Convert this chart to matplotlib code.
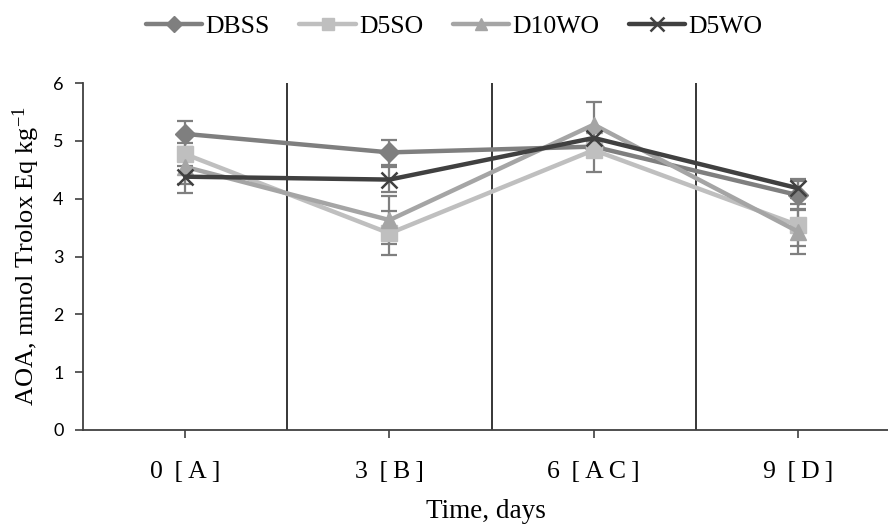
import matplotlib
matplotlib.use("Agg")
import matplotlib.pyplot as plt

categories = ["0\u2009 [\u2009A\u2009]", "3\u2009 [\u2009B\u2009]", "6\u2009 [\u2009A\u2009C\u2009]", "9\u2009 [\u2009D\u2009]"]
series_names = ["DBSS", "D5SO", "D10WO", "D5WO"]
dbss = [5.12, 4.80, 4.90, 4.06]
d5so = [4.77, 3.40, 4.84, 3.54]
d10wo = [4.55, 3.63, 5.28, 3.43]
d5wo = [4.38, 4.33, 5.05, 4.18]
dbss_err = [0.22, 0.22, 0.10, 0.25]
d5so_err = [0.20, 0.38, 0.38, 0.36]
d10wo_err = [0.30, 0.42, 0.40, 0.39]
d5wo_err = [0.28, 0.22, 0.10, 0.16]
yticks = [0, 1, 2, 3, 4, 5, 6]

serif = "Liberation Serif"
plt.rcParams["font.family"] = "serif"
plt.rcParams["font.serif"] = [serif, "DejaVu Serif"]
plt.rcParams["mathtext.fontset"] = "custom"
plt.rcParams["mathtext.rm"] = serif
plt.rcParams["mathtext.it"] = serif + ":italic"

fig = plt.figure(figsize=(8.88, 5.25), dpi=100)
ax = fig.add_axes([83/888, 1-430/525, 1-83/888, (430-83)/525])

styles = [
    dict(color="#7f7f7f", marker="D", ms=10),
    dict(color="#bfbfbf", marker="s", ms=11),
    dict(color="#a5a5a5", marker="^", ms=11),
    dict(color="#404040", marker="x", ms=12, mew=1.8),
]
x = list(range(len(categories)))
handles = []
for name, vals, errs, st in zip(series_names, [dbss, d5so, d10wo, d5wo],
                                 [dbss_err, d5so_err, d10wo_err, d5wo_err], styles):
    ax.errorbar(x, vals, yerr=errs, fmt="none", ecolor="#7f7f7f", elinewidth=1.6,
                capsize=6, capthick=1.6, zorder=2)
    h, = ax.plot(x, vals, lw=3.2, label=name, zorder=3, solid_capstyle="round", **st)
    handles.append(h)

ax.set_xlim(-0.5, 3.44)
ax.set_ylim(0, 6)
for b in [0.5, 1.5, 2.5]:
    ax.axvline(b, color="#262626", lw=1.3, zorder=1)

ax.set_xticks(x)
ax.set_xticklabels(categories, fontsize=18.5)
ax.set_yticks(yticks)
ax.set_yticklabels([str(v) for v in yticks], fontfamily="Lato", fontsize=13)
ax.tick_params(axis="x", length=6, width=1.2, pad=16, color="#404040")
ax.tick_params(axis="y", length=6, width=1.2, pad=8, color="#404040")
for s in ["top", "right"]:
    ax.spines[s].set_visible(False)
for s in ["left", "bottom"]:
    ax.spines[s].set_linewidth(1.3)
    ax.spines[s].set_color("#404040")

ax.set_xlabel("Time, days", fontsize=19.5, labelpad=12)
ax.set_ylabel("AOA, mmol Trolox Eq kg$^{-1}$", fontsize=19, labelpad=8)

leg = fig.legend(handles=handles, loc="center", bbox_to_anchor=(454/888, 1-27/525), ncol=4,
                 frameon=False, prop={"family": "serif", "size": 18.5}, handlelength=2.2,
                 handletextpad=0.12, columnspacing=1.15, borderaxespad=0, markerscale=0.85)

fig.savefig("out.png", dpi=100)
